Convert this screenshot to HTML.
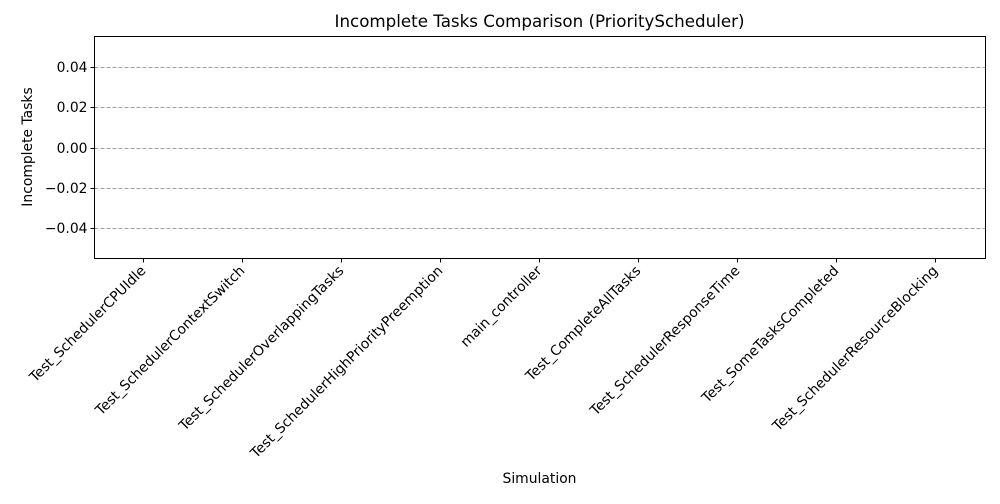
<!DOCTYPE html>
<html><head><meta charset="utf-8"><style>
body{margin:0;background:#fff;font-family:"DejaVu Sans","Liberation Sans",sans-serif;}
svg text{font-family:"DejaVu Sans","Liberation Sans",sans-serif;}
</style></head><body>
<svg id="chart" width="1000" height="500" xmlns="http://www.w3.org/2000/svg">
<rect width="1000" height="500" fill="#fff"/>
<g id="grid"></g>
<g id="bars"></g>
<g id="yaxis"></g>
<g id="xaxis"></g>
<rect x="94.5" y="36.5" width="891" height="222" fill="none" stroke="#000" stroke-width="1"/>
<text x="539.5" y="27" font-size="16.7" text-anchor="middle">Incomplete Tasks Comparison (PriorityScheduler)</text>
<text x="539.5" y="483" font-size="13.9" text-anchor="middle">Simulation</text>
<text transform="translate(32,147) rotate(-90)" font-size="13.9" text-anchor="middle">Incomplete Tasks</text>
</svg>
<script>
const categories = ["Test_SchedulerCPUIdle","Test_SchedulerContextSwitch","Test_SchedulerOverlappingTasks","Test_SchedulerHighPriorityPreemption","main_controller","Test_CompleteAllTasks","Test_SchedulerResponseTime","Test_SomeTasksCompleted","Test_SchedulerResourceBlocking"];
const values = [0,0,0,0,0,0,0,0,0];
const yTicks = [-0.04,-0.02,0.00,0.02,0.04];
const yTickLabels = ["\u22120.04","\u22120.02","0.00","0.02","0.04"];

const NS="http://www.w3.org/2000/svg";
const L=94.5,R=985.5,T=36.5,B=258.5,yMin=-0.055,yMax=0.055;
function y(v){return B-(v-yMin)/(yMax-yMin)*(B-T);}
function x(i){return 143+i*99;}
function mk(tag,attrs){const e=document.createElementNS(NS,tag);for(const k in attrs)e.setAttribute(k,attrs[k]);return e;}
const grid=document.getElementById('grid'),yax=document.getElementById('yaxis'),xax=document.getElementById('xaxis'),bars=document.getElementById('bars');
yTicks.forEach((t,i)=>{
  const yy=Math.round(y(t))+0.5;
  const g=mk('line',{x1:L,x2:R,y1:yy,y2:yy,stroke:'#a0a0a0','stroke-dasharray':'4,2','stroke-width':1});
  
  
  grid.appendChild(g);
  const tk=mk('line',{x1:L-4,x2:L,y1:yy,y2:yy,stroke:'#000'});
  
  
  yax.appendChild(tk);
  const tx=mk('text',{x:L-7,y:yy+4.5,'font-size':13.9,'text-anchor':'end'});
  
  
  tx.textContent=yTickLabels[i];
  yax.appendChild(tx);
});
categories.forEach((c,i)=>{
  const cx=x(i)+0.5;
  const h=Math.abs(y(values[i])-y(0));
  const r=mk('rect',{x:cx-40,y:Math.min(y(values[i]),y(0)),width:80,height:h,fill:'#1f77b4'});
  
  
  bars.appendChild(r);
  const tk=mk('line',{x1:cx,x2:cx,y1:B,y2:B+4,stroke:'#000'});
  
  
  xax.appendChild(tk);
  const tx=mk('text',{transform:'translate('+(cx+3)+','+(B+13)+') rotate(-45)','font-size':13.9,'text-anchor':'end'});
  
  
  tx.textContent=c;
  xax.appendChild(tx);
});
</script>
</body></html>
